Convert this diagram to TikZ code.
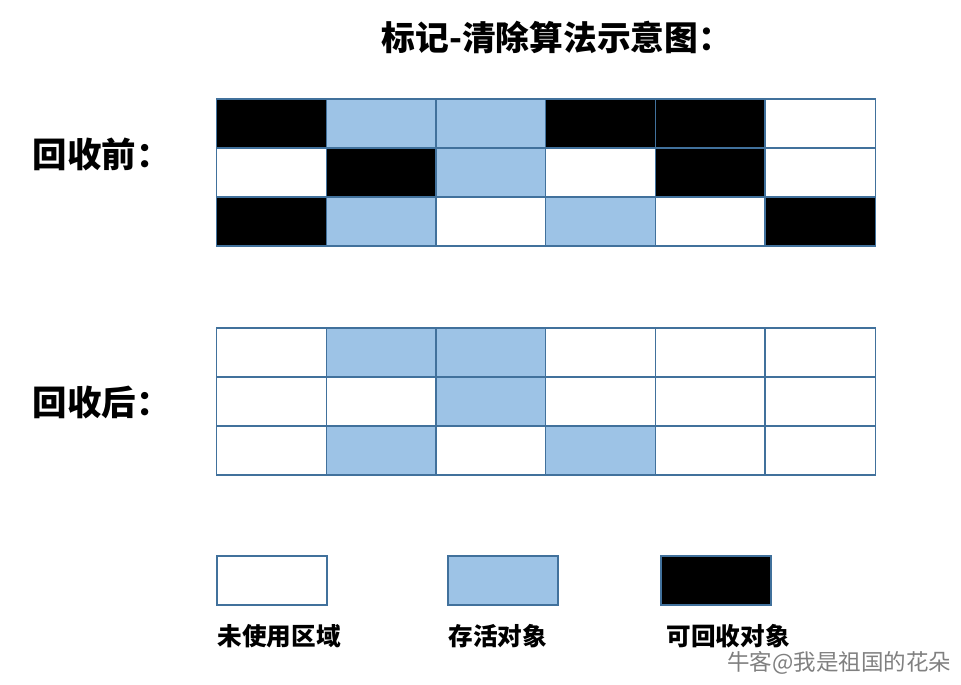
\documentclass[tikz,border=0pt]{standalone}
\usepackage{fontspec}
\newfontfamily\cjk{Noto Sans CJK SC}
\definecolor{edge}{HTML}{41719C}
\definecolor{alive}{HTML}{9DC3E6}
\tikzset{
  cell/.style={draw=edge, fill=#1, line width=0.4pt, minimum width=1.1cm,
    minimum height=0.49cm, inner sep=0pt, outer sep=0pt},
  heading/.style={font=\cjk\bfseries\fontsize{9.8}{12}\selectfont, inner sep=0pt},
  legend/.style={font=\cjk\bfseries\fontsize{7}{8}\selectfont, inner sep=0pt},
  mark label/.style={font=\cjk\fontsize{6.4}{8}\selectfont, text=gray, inner sep=0pt}
}
\begin{document}
\begin{tikzpicture}[x=0.01cm,y=-0.01cm]
  \useasboundingbox (0,0) rectangle (961,684);
  % title
  \node[heading, font=\cjk\bfseries\fontsize{9.6}{12}\selectfont] (title) at (557,37) {标记-清除算法示意图：};
  % before collection
  \node[heading, anchor=west] (before) at (32,154) {回收前：};
  \foreach \row [count=\r] in {{black,alive,alive,black,black,white},
                               {white,black,alive,white,black,white},
                               {black,alive,white,alive,white,black}}
    \foreach \col [count=\c] in \row
      \node[cell=\col] (pre-\r-\c) at ({162+109.7*\c},{74.5+49*\r}) {};
  % after collection
  \node[heading, anchor=west] (after) at (32,402) {回收后：};
  \foreach \row [count=\r] in {{white,alive,alive,white,white,white},
                               {white,white,alive,white,white,white},
                               {white,alive,white,alive,white,white}}
    \foreach \col [count=\c] in \row
      \node[cell=\col] (post-\r-\c) at ({162+109.7*\c},{303.5+49*\r}) {};
  % legend
  \node[cell=white] (key-free) at (272,580.5) {};
  \node[cell=alive] (key-live) at (503,580.5) {};
  \node[cell=black] (key-dead) at (716,580.5) {};
  \node[legend, anchor=west] (txt-free) at (217,636) {未使用区域};
  \node[legend, anchor=west] (txt-live) at (448,636) {存活对象};
  \node[legend, anchor=west] (txt-dead) at (666,636) {可回收对象};
  \node[mark label, anchor=east] (mark) at (952,663) {牛客@我是祖国的花朵};
\end{tikzpicture}
\end{document}
